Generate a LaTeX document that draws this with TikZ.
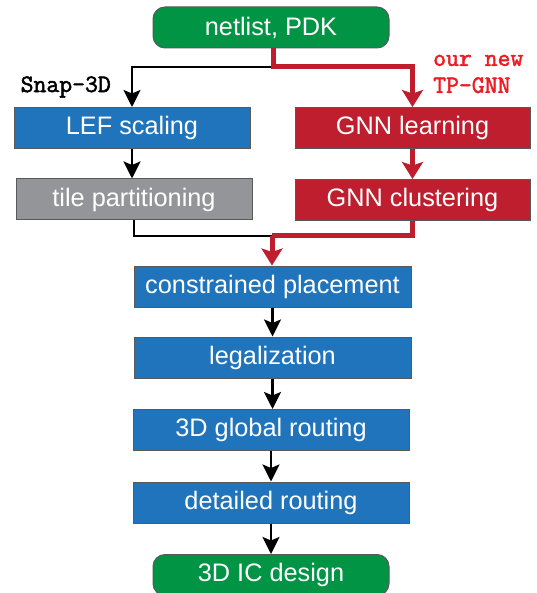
\documentclass[tikz,border=0pt]{standalone}
\usepackage{fontspec}
\setmainfont{Liberation Sans}
\newfontfamily\tagfont[FakeBold=2]{Latin Modern Mono}
\usetikzlibrary{arrows.meta}
\definecolor{cgreen}{RGB}{0,148,68}
\definecolor{cblue}{RGB}{31,116,187}
\definecolor{cred}{RGB}{190,30,45}
\definecolor{cgray}{RGB}{147,149,152}
\definecolor{cedge}{RGB}{88,89,91}
\definecolor{ctext}{RGB}{237,28,36}
\tikzset{flowsec/.style={x=1pt,y=-1pt},
  stage/.style={draw=cedge,line width=1pt,text=white,inner sep=0pt,
    minimum height=41pt,font=\fontsize{25.3}{29}\selectfont},
  term/.style={stage,fill=cgreen,rounded corners=12pt},
  tag/.style={font=\tagfont\bfseries\fontsize{25}{27}\selectfont,inner sep=0pt},
  blk/.style={line width=2.4pt,-{Stealth[length=17pt,width=17pt,inset=3.5pt]}},
  rdl/.style={cred,line width=5pt,-{Stealth[length=17pt,width=21pt,inset=3.5pt]}}}

\begin{document}
\begin{tikzpicture}[flowsec]
    \useasboundingbox (0,0) rectangle (536,593);
    \node[term,minimum width=236pt] (net) at (271,27.5) {netlist, PDK};
    \node[stage,fill=cblue,minimum width=236pt] (lef) at (132,128) {LEF scaling};
    \node[stage,fill=cred,minimum width=235pt] (gnnl) at (412.5,128) {GNN learning};
    \node[stage,fill=cgray,minimum width=236pt] (tile) at (134,199.5) {tile partitioning};
    \node[stage,fill=cred,minimum width=235pt] (gnnc) at (412.5,200) {GNN clustering};
    \node[stage,fill=cblue,minimum width=277pt] (place) at (272.5,286.5) {constrained placement};
    \node[stage,fill=cblue,minimum width=277pt] (legal) at (272.5,357.5) {legalization};
    \node[stage,fill=cblue,minimum width=276pt] (groute) at (271,430) {3D global routing};
    \node[stage,fill=cblue,minimum width=276pt] (droute) at (271,502.5) {detailed routing};
    \node[term,minimum width=236pt] (ic) at (271,575) {3D IC design};
    \node[tag,anchor=east] (snap) at (111,87) {Snap-3D};
    \node[tag,text=ctext,align=left,anchor=west] (ours) at (433,74) {our new\\TP-GNN};
    % split and join points
    \coordinate (split) at (273,67);
    \coordinate (join) at (272,236);
    \draw[blk] (split) -| (lef.north);
    \draw[rdl] (net.south -| split) -- (split) -| (gnnl.north);
    \draw[blk] (lef) -- (lef |- tile.north);
    \draw[rdl] (gnnl) -- (gnnc);
    \draw[blk,-] (tile.south) |- (join);
    \draw[rdl,-] (gnnc.south) |- (join);
    \draw[rdl] (join) -- (join |- place.north);
    \draw[blk] (place) -- (legal);
    \draw[blk] (legal) -- (legal |- groute.north);
    \draw[blk] (groute) -- (droute);
    \draw[blk] (droute) -- (ic);
\end{tikzpicture}
\end{document}
